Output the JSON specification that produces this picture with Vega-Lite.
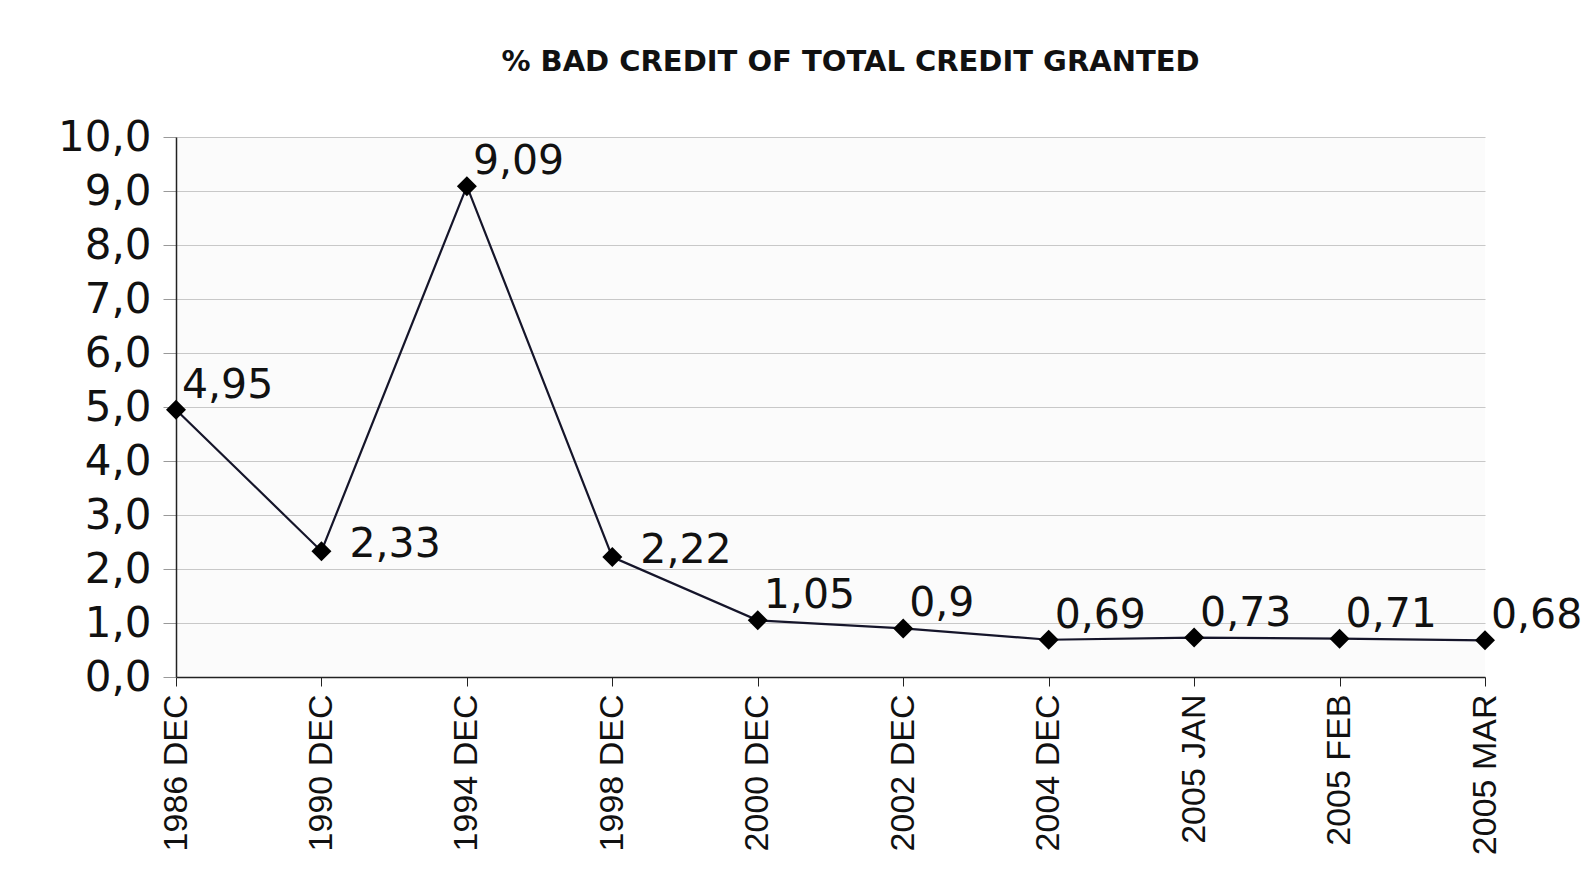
{
  "$schema": "https://vega.github.io/schema/vega-lite/v6.json",
  "width": 1309,
  "height": 540,
  "autosize": {"type": "none"},
  "padding": {"left": 176, "top": 137, "right": 110, "bottom": 192},
  "background": "white",
  "config": {
    "font": "DejaVu Sans",
    "view": {"stroke": null, "fill": "#fbfbfb"}
  },
  "title": {
    "text": "% BAD CREDIT OF TOTAL CREDIT GRANTED",
    "font": "DejaVu Sans",
    "fontSize": 29,
    "fontWeight": "bold",
    "color": "#111111",
    "anchor": "middle",
    "baseline": "alphabetic",
    "offset": 16,
    "dx": 20
  },
  "data": {
    "values": [
      {"period": "1986 DEC", "pct": 4.95, "label": "4,95"},
      {"period": "1990 DEC", "pct": 2.33, "label": "2,33"},
      {"period": "1994 DEC", "pct": 9.09, "label": "9,09"},
      {"period": "1998 DEC", "pct": 2.22, "label": "2,22"},
      {"period": "2000 DEC", "pct": 1.05, "label": "1,05"},
      {"period": "2002 DEC", "pct": 0.9, "label": "0,9"},
      {"period": "2004 DEC", "pct": 0.69, "label": "0,69"},
      {"period": "2005 JAN", "pct": 0.73, "label": "0,73"},
      {"period": "2005 FEB", "pct": 0.71, "label": "0,71"},
      {"period": "2005 MAR", "pct": 0.68, "label": "0,68"}
    ]
  },
  "encoding": {
    "x": {
      "field": "period",
      "type": "ordinal",
      "sort": null,
      "scale": {"type": "point", "padding": 0},
      "axis": {
        "title": null,
        "labelAngle": -90,
        "labelAlign": "right",
        "labelBaseline": "middle",
        "labelFont": "Liberation Sans",
        "labelFontSize": 34,
        "labelColor": "#111111",
        "labelPadding": 8,
        "tickSize": 9,
        "tickColor": "#222222",
        "domainColor": "#222222",
        "domainWidth": 1.5,
        "grid": false
      }
    },
    "y": {
      "field": "pct",
      "type": "quantitative",
      "scale": {"domain": [0, 10], "nice": false},
      "axis": {
        "title": null,
        "values": [0, 1, 2, 3, 4, 5, 6, 7, 8, 9, 10],
        "labelExpr": "replace(format(datum.value, '.1f'), '.', ',')",
        "labelFont": "DejaVu Sans",
        "labelFontSize": 42,
        "labelColor": "#111111",
        "labelPadding": 12,
        "tickSize": 13,
        "tickColor": "#999999",
        "domainColor": "#222222",
        "domainWidth": 1.5,
        "gridColor": "#c8c8c8",
        "gridWidth": 1.2
      }
    }
  },
  "layer": [
    {
      "mark": {"type": "line", "color": "#15152a", "strokeWidth": 2.2}
    },
    {
      "mark": {"type": "point", "shape": "diamond", "filled": true, "size": 400, "color": "#000000", "opacity": 1}
    },
    {
      "transform": [{"filter": "datum.period !== '1990 DEC' && datum.period !== '1998 DEC'"}],
      "mark": {"type": "text", "align": "left", "baseline": "middle", "dx": 6, "dy": -24, "font": "DejaVu Sans", "fontSize": 41, "color": "#111111"},
      "encoding": {"text": {"field": "label"}}
    },
    {
      "transform": [{"filter": "datum.period === '1990 DEC' || datum.period === '1998 DEC'"}],
      "mark": {"type": "text", "align": "left", "baseline": "middle", "dx": 28, "dy": -6, "font": "DejaVu Sans", "fontSize": 41, "color": "#111111"},
      "encoding": {"text": {"field": "label"}}
    }
  ]
}
